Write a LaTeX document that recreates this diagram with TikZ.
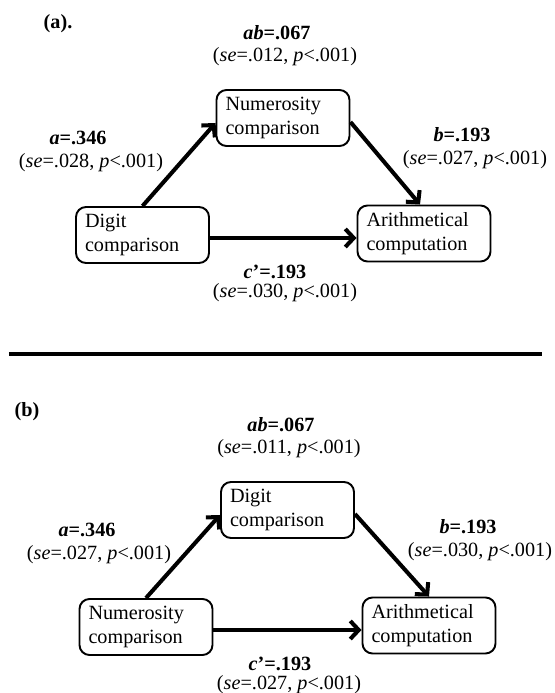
\documentclass[tikz,border=0pt]{standalone}
\usepackage{fontspec}
\setmainfont{Liberation Serif}
\usetikzlibrary{arrows.meta}

\tikzset{
  varbox/.style={draw, line width=1.1pt, rounded corners=0.2cm, align=left,
    text width=2.30cm, inner xsep=0.18cm, minimum height=1.12cm,
    font=\fontsize{11.5}{13.5}\selectfont},
  effarrow/.style={line width=2.3pt, -{Straight Barb[length=0.17cm,width=0.36cm]}},
  coef/.style={inner sep=0pt, font=\fontsize{11.5}{13.5}\selectfont\bfseries},
  stat/.style={inner sep=0pt, font=\fontsize{11.5}{13.5}\selectfont}
}

\begin{document}
\begin{tikzpicture}[x=1cm,y=1cm]
  \useasboundingbox (0,0) rectangle (11.08,13.86);
  % Panel (a): digit comparison predicts arithmetic via numerosity.
  \node[coef] (taga) at (1.16,13.38) {(a).};
  \node[varbox] (numa) at (5.66,11.50) {Numerosity\\comparison};
  \node[varbox] (diga) at (2.85,9.16) {Digit\\comparison};
  \node[varbox] (arta) at (8.48,9.19) {Arithmetical\\computation};
  \draw[effarrow] (diga.north) -- ([yshift=-0.1cm]numa.west);
  \draw[effarrow] ([yshift=-0.08cm]numa.east) -- ([xshift=-0.08cm]arta.north);
  \draw[effarrow] ([yshift=-0.06cm]diga.east) -- ([yshift=-0.06cm]diga.east -| arta.west);
  \node[coef] (abcoefa) at (5.54,13.20) {\textit{ab}=.067};
  \node[stat] (abstata) at (5.70,12.72) {(\textit{se}=.012, \textit{p}<.001)};
  \node[coef] (acoefa) at (1.56,11.10) {\textit{a}=.346};
  \node[stat] (astata) at (1.82,10.60) {(\textit{se}=.028, \textit{p}<.001)};
  \node[coef] (bcoefa) at (9.24,11.16) {\textit{b}=.193};
  \node[stat] (bstata) at (9.50,10.66) {(\textit{se}=.027, \textit{p}<.001)};
  \node[coef] (ccoefa) at (5.50,8.42) {\textit{c}’=.193};
  \node[stat] (cstata) at (5.70,8.00) {(\textit{se}=.030, \textit{p}<.001)};
  % Rule between the panels.
  \draw[line width=2.8pt] (0.18,6.78) -- (10.84,6.78);
  % Panel (b): the two comparison tasks swap roles.
  \node[coef] (tagb) at (0.54,5.62) {(b)};
  \node[varbox] (digb) at (5.75,3.66) {Digit\\comparison};
  \node[varbox] (numb) at (2.92,1.32) {Numerosity\\comparison};
  \node[varbox] (artb) at (8.58,1.35) {Arithmetical\\computation};
  \draw[effarrow] (numb.north) -- ([yshift=-0.1cm]digb.west);
  \draw[effarrow] ([yshift=-0.08cm]digb.east) -- (artb.north);
  \draw[effarrow] ([yshift=-0.06cm]numb.east) -- ([yshift=-0.06cm]numb.east -| artb.west);
  \node[coef] (abcoefb) at (5.62,5.36) {\textit{ab}=.067};
  \node[stat] (abstatb) at (5.78,4.88) {(\textit{se}=.011, \textit{p}<.001)};
  \node[coef] (acoefb) at (1.74,3.26) {\textit{a}=.346};
  \node[stat] (astatb) at (1.98,2.76) {(\textit{se}=.027, \textit{p}<.001)};
  \node[coef] (bcoefb) at (9.36,3.32) {\textit{b}=.193};
  \node[stat] (bstatb) at (9.60,2.82) {(\textit{se}=.030, \textit{p}<.001)};
  \node[coef] (ccoefb) at (5.60,0.58) {\textit{c}’=.193};
  \node[stat] (cstatb) at (5.78,0.16) {(\textit{se}=.027, \textit{p}<.001)};
\end{tikzpicture}
\end{document}
